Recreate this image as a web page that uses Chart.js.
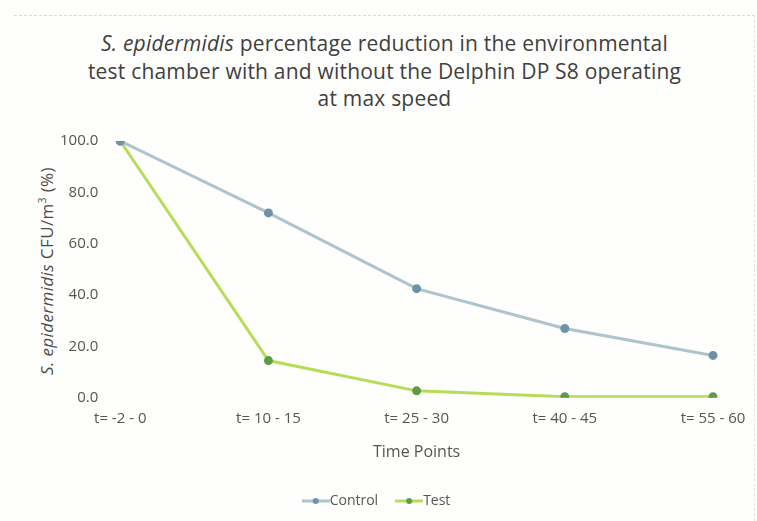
<!DOCTYPE html>
<html>
<head>
<meta charset="utf-8">
<script src="https://cdn.jsdelivr.net/npm/chart.js@4.4.1/dist/chart.umd.min.js"></script>
<style>
  html, body { margin: 0; padding: 0; background: #fff; }
  #wrap { position: relative; width: 757px; height: 521px; overflow: hidden; background: #fefefc; }
  #frame { position: absolute; left: 14px; top: 15px; width: 740px; height: 520px; border-top: 1px dashed #d8dcc8; border-right: 1px dashed #e4e6d8; }
  #title { position: absolute; left: 6px; top: 30px; width: 757px; text-align: center;
           font-family: "Open Sans", sans-serif; font-size: 21px; letter-spacing: 0.2px;
           line-height: 27.5px; color: #404040; }
  #ytitle { position: absolute; left: 46px; top: 271px; width: 260px; text-align: center;
            transform: translate(-50%, -50%) rotate(-90deg); white-space: nowrap;
            font-family: "Open Sans", sans-serif; font-size: 17px; letter-spacing: 0.4px; color: #4a4a4a; }
  #chartBox { position: absolute; left: 0; top: 0; width: 757px; height: 521px; }
</style>
</head>
<body>
<div id="wrap">
  <div id="frame"></div>
  <div id="title"><i>S. epidermidis</i> percentage reduction in the environmental<br>test chamber with and without the Delphin DP S8 operating<br>at max speed</div>
  <div id="ytitle"><i>S. epidermidis</i> CFU/m<sup style="font-size:10px">3</sup> (%)</div>
  <div id="chartBox"><canvas id="chart" width="757" height="521"></canvas></div>
</div>
<script>
// --- data ---
const timePoints = ['t= -2 - 0', 't= 10 - 15', 't= 25 - 30', 't= 40 - 45', 't= 55 - 60'];
const controlValues = [100.0, 72.0, 42.5, 27.0, 16.5];
const testValues = [100.0, 14.5, 2.7, 0.4, 0.4];
const yTicks = [0, 20, 40, 60, 80, 100];

const controlLine = '#adc3ce';
const controlDot = '#6e92a8';
const testLine = '#b7dc58';
const testDot = '#5e9c48';
const textColor = '#555';

// small line-dot-line swatch for the legend
function legendSwatch(lineColor, dotColor) {
    const c = document.createElement('canvas');
    c.width = 28; c.height = 8;
    const g = c.getContext('2d');
    g.strokeStyle = lineColor;
    g.lineWidth = 3;
    g.beginPath(); g.moveTo(0, 4); g.lineTo(28, 4); g.stroke();
    g.fillStyle = dotColor;
    g.beginPath(); g.arc(14, 4, 3, 0, Math.PI * 2); g.fill();
    return c;
}

const ctx = document.getElementById('chart').getContext('2d');
const chart = new Chart(ctx, {
    type: 'line',
    data: {
        labels: timePoints,
        datasets: [
            {
                label: 'Control',
                data: controlValues,
                borderColor: controlLine,
                pointBackgroundColor: controlDot,
                pointBorderColor: controlDot,
                pointRadius: 3,
                borderWidth: 3,
                tension: 0
            },
            {
                label: 'Test',
                data: testValues,
                borderColor: testLine,
                pointBackgroundColor: testDot,
                pointBorderColor: testDot,
                pointRadius: 3,
                borderWidth: 3,
                tension: 0
            }
        ]
    },
    options: {
        responsive: false,
        animation: false,
        layout: { padding: { top: 141, left: 46, right: 44, bottom: 3 } },
        scales: {
            x: {
                grid: { display: false },
                border: { display: false },
                ticks: { color: textColor, font: { family: 'Open Sans', size: 15 }, padding: 4 },
                title: { display: true, text: 'Time Points', color: textColor,
                         font: { family: 'Open Sans', size: 16 }, padding: { top: 11, bottom: 8 } }
            },
            y: {
                min: 0,
                max: 100,
                afterBuildTicks: axis => { axis.ticks = yTicks.map(v => ({ value: v })); },
                grid: { display: false },
                border: { display: false },
                ticks: { color: textColor, font: { family: 'Open Sans', size: 15 }, padding: 14,
                         callback: v => Number(v).toFixed(1) }
            }
        },
        plugins: {
            legend: {
                position: 'bottom',
                labels: {
                    usePointStyle: true, color: textColor, font: { family: 'Open Sans', size: 14 },
                    padding: 24, boxHeight: 8,
                    generateLabels: c => c.data.datasets.map((ds, i) => ({
                        text: ds.label,
                        fontColor: textColor,
                        pointStyle: legendSwatch(ds.borderColor, ds.pointBackgroundColor),
                        datasetIndex: i,
                        hidden: false,
                        lineWidth: 0
                    }))
                }
            },
            tooltip: { enabled: false }
        }
    }
});
</script>
</body>
</html>
